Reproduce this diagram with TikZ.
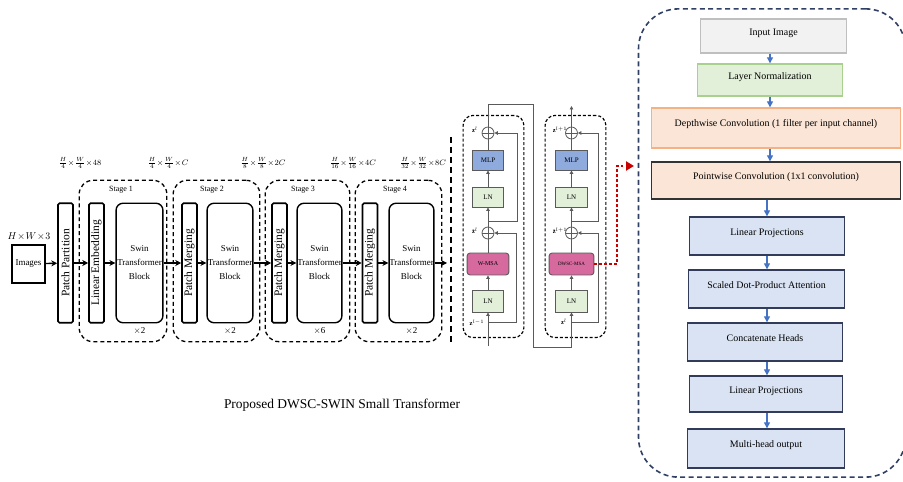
\documentclass[tikz,border=0pt]{standalone}
\usepackage{fontspec}
\setmainfont{Liberation Serif}
\usetikzlibrary{arrows.meta,calc}
\definecolor{navy}{RGB}{47,64,100}
\definecolor{arrblue}{RGB}{68,114,196}
\definecolor{inpfill}{RGB}{242,242,242}
\definecolor{inpdraw}{RGB}{191,191,191}
\definecolor{lnfill}{RGB}{226,240,217}
\definecolor{lndraw}{RGB}{169,209,142}
\definecolor{orfill}{RGB}{251,229,214}
\definecolor{ordraw}{RGB}{244,177,131}
\definecolor{bfill}{RGB}{218,227,243}
\definecolor{bdraw}{RGB}{50,60,90}
\definecolor{mlpfill}{RGB}{143,170,220}
\definecolor{msafill}{RGB}{214,106,158}
\definecolor{reddot}{RGB}{200,0,0}
\definecolor{lgray}{RGB}{90,90,90}
\tikzset{
  tallbox/.style={draw, line width=1.6, rounded corners=1.5, minimum width=120, minimum height=15, inner sep=0, rotate=90, font=\fontsize{11.5}{12}\selectfont},
  swinbox/.style={draw, line width=1.4, rounded corners=7, minimum height=120, align=center, inner sep=0, font=\fontsize{9}{14}\selectfont},
  stagebox/.style={draw, line width=1.3, rounded corners=14, dash pattern=on 4 off 3},
  parrow/.style={-{Stealth[length=6,width=6]}, line width=1.4},
  dimlab/.style={font=\fontsize{8}{9}\selectfont},
  stlab/.style={font=\fontsize{8}{9}\selectfont},
  smallbox/.style={draw=lgray, line width=0.9, minimum width=32, minimum height=20, inner sep=0, font=\fontsize{7}{8}\selectfont},
  oplus/.style={circle, draw=lgray, line width=0.8, minimum size=12, inner sep=0,
    path picture={\draw[lgray, line width=0.8] (path picture bounding box.north) -- (path picture bounding box.south) (path picture bounding box.west) -- (path picture bounding box.east);}},
  sline/.style={draw=lgray, line width=0.8},
  sarrow/.style={lgray, line width=0.8, -{Triangle[length=3.5,width=3.5]}},
  swdash/.style={draw, line width=1.2, rounded corners=10, dash pattern=on 3 off 2},
  zlab/.style={font=\fontsize{6.5}{7}\selectfont, inner sep=0},
  rbox/.style={line width=1.5, minimum height=34, inner sep=0, font=\fontsize{10}{12}\selectfont, text height=7, text depth=9},
  bluebox/.style={rbox, draw=bdraw, fill=bfill, minimum width=156, minimum height=38},
  barrow/.style={arrblue, line width=1.2, -{Triangle[length=6,width=6]}},
}
\begin{document}
\begin{tikzpicture}[x=1bp, y=-1bp]
\useasboundingbox (0,0) rectangle (903,482);
\clip (0,0) rectangle (903,482);
\fill[white] (0,0) rectangle (903,482);

% ---------- pipeline ----------
\node[draw, line width=1.4, minimum width=33, minimum height=38, inner sep=0, font=\fontsize{9}{10}\selectfont] (img) at (28.5,264) {Images};
\node[font=\fontsize{10}{11}\selectfont] (imgdim) at (29,237) {$H\!\times\! W\!\times\! 3$};

\node[tallbox] (pp) at (65.5,263) {Patch Partition};

\node[stagebox, minimum width=88, minimum height=162] (st1) at (123,261) {};
\node[stagebox, minimum width=87, minimum height=162] (st2) at (216.5,261) {};
\node[stagebox, minimum width=85, minimum height=162] (st3) at (307.5,261) {};
\node[stagebox, minimum width=87, minimum height=162] (st4) at (398.5,261) {};

\node[stlab] (st1l) at (121,190) {Stage 1};
\node[stlab] (st2l) at (212,190) {Stage 2};
\node[stlab] (st3l) at (303,190) {Stage 3};
\node[stlab] (st4l) at (395,190) {Stage 4};

\node[tallbox] (le) at (96.5,263) {Linear Embedding};
\node[swinbox, minimum width=47] (sw1) at (139.5,263) {Swin\\Transformer\\Block};
\node[tallbox] (pm2) at (189.5,263) {Patch Merging};
\node[swinbox, minimum width=46] (sw2) at (230,263) {Swin\\Transformer\\Block};
\node[tallbox] (pm3) at (279.5,263) {Patch Merging};
\node[swinbox, minimum width=45] (sw3) at (319.5,263) {Swin\\Transformer\\Block};
\node[tallbox] (pm4) at (370,263) {Patch Merging};
\node[swinbox, minimum width=45] (sw4) at (411.5,263) {Swin\\Transformer\\Block};
\coordinate (out) at (447,263);

\node[font=\fontsize{9}{10}\selectfont] (x1) at (139.5,331) {$\times$2};
\node[font=\fontsize{9}{10}\selectfont] (x2) at (230,331) {$\times$2};
\node[font=\fontsize{9}{10}\selectfont] (x3) at (319.5,331) {$\times$6};
\node[font=\fontsize{9}{10}\selectfont] (x4) at (411.5,331) {$\times$2};

\node[dimlab] (d1) at (80,163) {$\frac{H}{4}\!\times\!\frac{W}{4}\!\times\! 48$};
\node[dimlab] (d2) at (168,163) {$\frac{H}{4}\!\times\!\frac{W}{4}\!\times\! C$};
\node[dimlab] (d3) at (263,163) {$\frac{H}{8}\!\times\!\frac{W}{8}\!\times\! 2C$};
\node[dimlab] (d4) at (353,163) {$\frac{H}{16}\!\times\!\frac{W}{16}\!\times\! 4C$};
\node[dimlab] (d5) at (423,163) {$\frac{H}{32}\!\times\!\frac{W}{32}\!\times\! 8C$};

\draw[parrow] (img) -- (pp);
\draw[parrow] (pp) -- (le);
\draw[parrow] (le) -- (sw1);
\draw[parrow] (sw1) -- (pm2);
\draw[parrow] (pm2) -- (sw2);
\draw[parrow] (sw2) -- (pm3);
\draw[parrow] (pm3) -- (sw3);
\draw[parrow] (sw3) -- (pm4);
\draw[parrow] (pm4) -- (sw4);
\draw[parrow] (sw4) -- (out);

% separator
\coordinate (sepa) at (451,137);
\coordinate (sepb) at (451,345);
\draw[line width=2.5, dash pattern=on 6 off 4] (sepa) -- (sepb);

% ---------- swin detail block 1 ----------
\node[swdash, minimum width=61, minimum height=223] (sb1) at (493.5,226.5) {};
\node[oplus] (c1a) at (488,133) {};
\node[smallbox, fill=mlpfill] (mlp1) at (488,160) {MLP};
\node[smallbox, fill=lnfill] (ln1a) at (488,197) {LN};
\node[oplus] (c1b) at (488,233) {};
\node[smallbox, fill=msafill, minimum width=42, minimum height=22, rounded corners=3, font=\fontsize{6}{7}\selectfont] (wmsa) at (488,264) {W-MSA};
\node[smallbox, fill=lnfill, minimum height=22] (ln1b) at (488,301) {LN};

\coordinate (in1) at (488,346);
\draw[sarrow] (in1) -- (ln1b);
\draw[sarrow] (ln1b) -- (wmsa);
\draw[sline] (wmsa) -- (c1b);
\draw[sarrow] (c1b) -- (ln1a);
\draw[sarrow] (ln1a) -- (mlp1);
\draw[sline] (mlp1) -- (c1a);
\coordinate (r1s) at (488,322);
\coordinate (r1e) at (516,322);
\draw[sarrow] (r1s) -- (r1e) |- (c1b.east);
\coordinate (r2s) at (488,221);
\coordinate (r2e) at (517,221);
\draw[sarrow] (r2s) -- (r2e) |- (c1a.east);

\node[zlab] (z1a) at (475,130) {$\mathbf{z}^{l}$};
\node[zlab] (z1b) at (475,231) {$\hat{\mathbf{z}}^{l}$};
\node[zlab] (z1c) at (477,323) {$\mathbf{z}^{l-1}$};

% ---------- swin detail block 2 ----------
\node[swdash, minimum width=61, minimum height=223] (sb2) at (575.5,226.5) {};
\node[oplus] (c2a) at (571.5,133) {};
\node[smallbox, fill=mlpfill, minimum width=33] (mlp2) at (571.5,160) {MLP};
\node[smallbox, fill=lnfill, minimum width=33] (ln2a) at (571.5,197) {LN};
\node[oplus] (c2b) at (571.5,233) {};
\node[smallbox, fill=msafill, minimum width=45, minimum height=22, rounded corners=3, font=\fontsize{5}{6}\selectfont] (dwsc) at (571.5,264) {DWSC-MSA};
\node[smallbox, fill=lnfill, minimum width=33, minimum height=22] (ln2b) at (571.5,301) {LN};

\draw[sarrow] (ln2b) -- (dwsc);
\draw[sline] (dwsc) -- (c2b);
\draw[sarrow] (c2b) -- (ln2a);
\draw[sarrow] (ln2a) -- (mlp2);
\draw[sline] (mlp2) -- (c2a);
\coordinate (out2) at (571.5,106);
\draw[sarrow] (c2a) -- (out2);
\coordinate (q1s) at (571.5,322);
\coordinate (q1e) at (598,322);
\draw[sarrow] (q1s) -- (q1e) |- (c2b.east);
\coordinate (q2s) at (571.5,221);
\coordinate (q2e) at (598,221);
\draw[sarrow] (q2s) -- (q2e) |- (c2a.east);

% connection block1 -> block2
\coordinate (k1) at (533,104);
\coordinate (k2) at (571.5,347);
\draw[sarrow] (c1a.north) |- (k1) |- (k2) -- (ln2b.south);

\node[zlab] (z2a) at (560,130) {$\mathbf{z}^{l+1}$};
\node[zlab] (z2b) at (560,231) {$\hat{\mathbf{z}}^{l+1}$};
\node[zlab] (z2c) at (564,322) {$\mathbf{z}^{l}$};

% red dotted link
\coordinate (rd1) at (617,264);
\coordinate (rd2) at (634,166);
\draw[reddot, line width=2.6, dash pattern=on 2.6 off 2.4, -{Triangle[length=8,width=9]}] (dwsc.east) -- (rd1) |- (rd2);

% ---------- right panel ----------
\node[draw=navy, line width=1.6, dash pattern=on 5 off 3.5, rounded corners=40, minimum width=268, minimum height=470] (panel) at (772,243) {};

\node[rbox, draw=inpdraw, fill=inpfill, minimum width=147] (inp) at (773.5,36) {Input Image};
\node[rbox, draw=lndraw, fill=lnfill, minimum width=146, minimum height=32] (lnr) at (770,80) {Layer Normalization};
\node[rbox, draw=ordraw, fill=orfill, minimum width=250, minimum height=40, text depth=11] (dw) at (776,128) {Depthwise Convolution (1 filter per input channel)};
\node[rbox, draw=black!80, fill=orfill, minimum width=250, minimum height=37] (pw) at (776,180.5) {Pointwise Convolution (1x1 convolution)};
\node[bluebox] (lp1) at (767,236) {Linear Projections};
\node[bluebox, minimum width=157] (sdpa) at (766.5,289) {Scaled Dot-Product Attention};
\node[bluebox] (ch) at (765,342) {Concatenate Heads};
\node[bluebox, minimum width=154, minimum height=36] (lp2) at (766,394) {Linear Projections};
\node[bluebox, minimum width=158, minimum height=39] (mho) at (766,448.5) {Multi-head output};

\draw[barrow] (lnr.north |- inp.south) -- (lnr.north);
\draw[barrow] (lnr.south) -- (lnr.south |- dw.north);
\draw[barrow] (lnr.south |- dw.south) -- (lnr.south |- pw.north);
\draw[barrow] (lp1.north |- pw.south) -- (lp1.north);
\draw[barrow] (lp1.south) -- (lp1.south |- sdpa.north);
\draw[barrow] (lp1.south |- sdpa.south) -- (lp1.south |- ch.north);
\draw[barrow] (lp1.south |- ch.south) -- (lp1.south |- lp2.north);
\draw[barrow] (lp1.south |- lp2.south) -- (lp1.south |- mho.north);

% caption
\node[font=\fontsize{13.5}{15}\selectfont] (cap) at (342,405) {Proposed DWSC-SWIN Small Transformer};
\end{tikzpicture}
\end{document}
